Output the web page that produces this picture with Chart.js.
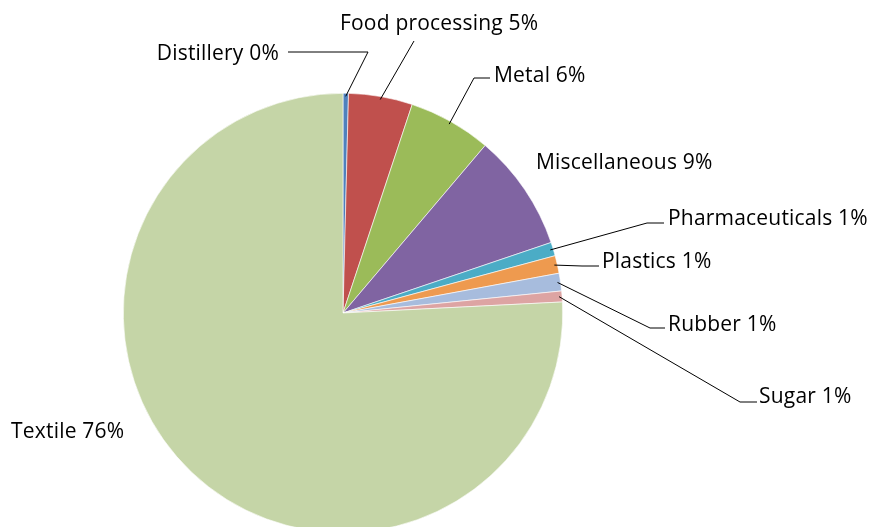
<!DOCTYPE html>
<html>
<head>
<meta charset="utf-8">
<script src="https://cdn.jsdelivr.net/npm/chart.js@4/dist/chart.umd.min.js"></script>
<style>
    html, body { margin: 0; padding: 0; background: #fff; overflow: hidden; }
    #wrap { width: 869px; height: 626px; }
</style>
</head>
<body>
<div id="wrap"><canvas id="pie-chart" width="869" height="626"></canvas></div>
<script>
// Industry share (percent), clockwise from 12 o'clock
const categories = ['Distillery', 'Food processing', 'Metal', 'Miscellaneous', 'Pharmaceuticals',
    'Plastics', 'Rubber', 'Sugar', 'Textile'];
const shares = [0.4, 4.7, 6.1, 8.6, 1.0, 1.3, 1.3, 0.8, 75.8];
const sliceColors = ['#4F81BD', '#C0504D', '#9BBB59', '#8064A2', '#4BACC6',
    '#EE9A4F', '#A7BCDD', '#DDA4A3', '#C5D5A7'];

// where each label sits (baseline), and the bend / end of its leader line (null = no line)
const labelLayout = [
    { x: 279, y: 60, align: 'right', bend: [368, 52], end: [288, 52] },
    { x: 340, y: 30, align: 'left', bend: null, end: [414, 41] },
    { x: 494, y: 82, align: 'left', bend: [474, 78], end: [490, 78] },
    { x: 536, y: 169, align: 'left', bend: null, end: null },
    { x: 668, y: 225, align: 'left', bend: [647, 223], end: [664, 223] },
    { x: 602, y: 268, align: 'left', bend: [582, 266], end: [599, 266] },
    { x: 668, y: 331, align: 'left', bend: [650, 328], end: [665, 328] },
    { x: 759, y: 403, align: 'left', bend: [740, 402], end: [757, 402] },
    { x: 11, y: 438, align: 'left', bend: null, end: null }
];

const total = shares.reduce((a, b) => a + b, 0);

// draws the category labels with leader lines
const leaderLabels = {
    id: 'leaderLabels',
    afterDatasetsDraw(chart) {
        const ctx = chart.ctx;
        const arcs = chart.getDatasetMeta(0).data;
        ctx.save();
        ctx.strokeStyle = '#000';
        ctx.lineWidth = 1;
        ctx.fillStyle = '#000';
        ctx.font = '21px "Open Sans", "Noto Sans", sans-serif';
        ctx.letterSpacing = '0.2px';
        ctx.textBaseline = 'alphabetic';

        arcs.forEach((arc, i) => {
            const p = arc.getProps(['x', 'y', 'startAngle', 'endAngle', 'outerRadius'], true);
            const lay = labelLayout[i];
            if (lay.end) {
                const mid = (p.startAngle + p.endAngle) / 2;
                const r = p.outerRadius - 3;
                ctx.beginPath();
                ctx.moveTo(p.x + Math.cos(mid) * r, p.y + Math.sin(mid) * r);
                if (lay.bend) ctx.lineTo(lay.bend[0], lay.bend[1]);
                ctx.lineTo(lay.end[0], lay.end[1]);
                ctx.stroke();
            }
            const pct = Math.round(shares[i] / total * 100);
            ctx.textAlign = lay.align;
            ctx.fillText(categories[i] + ' ' + pct + '%', lay.x, lay.y);
        });
        ctx.restore();
    }
};

document.addEventListener('DOMContentLoaded', () => {
    const ctx = document.getElementById('pie-chart').getContext('2d');
    new Chart(ctx, {
        type: 'pie',
        data: {
            labels: categories,
            datasets: [{
                data: shares,
                backgroundColor: sliceColors,
                borderColor: '#fff',
                borderWidth: 0.6
            }]
        },
        options: {
            responsive: false,
            animation: false,
            layout: { padding: { left: 123, right: 306, top: 93, bottom: 93 } },
            plugins: {
                legend: { display: false },
                tooltip: { enabled: false }
            }
        },
        plugins: [leaderLabels]
    });
});
</script>
</body>
</html>
